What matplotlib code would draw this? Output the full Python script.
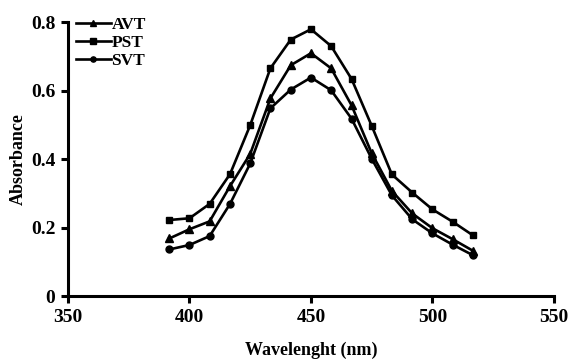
import matplotlib
matplotlib.use("Agg")
import matplotlib.pyplot as plt

plt.rcParams["font.family"] = ["Liberation Serif", "DejaVu Serif"]

wavelength = [391.7, 400, 408.3, 416.7, 425, 433.3, 441.7, 450,
              458.3, 466.7, 475, 483.3, 491.7, 500, 508.3, 516.7]
avt = [0.168, 0.195, 0.218, 0.321, 0.415, 0.577, 0.674, 0.709,
       0.665, 0.557, 0.417, 0.307, 0.241, 0.198, 0.166, 0.132]
pst = [0.222, 0.227, 0.269, 0.356, 0.499, 0.665, 0.749, 0.779,
       0.730, 0.634, 0.497, 0.355, 0.302, 0.253, 0.217, 0.177]
svt = [0.136, 0.149, 0.175, 0.269, 0.387, 0.548, 0.603, 0.638,
       0.601, 0.518, 0.401, 0.294, 0.224, 0.183, 0.150, 0.119]

x_ticks = [350, 400, 450, 500, 550]
y_ticks = [0, 0.2, 0.4, 0.6, 0.8]
y_tick_labels = ["0", "0.2", "0.4", "0.6", "0.8"]

fig = plt.figure(figsize=(5.69, 3.62), dpi=100)
ax = fig.add_axes([0.1195, 0.1823, 0.854, 0.7567])

ax.plot(wavelength, avt, color="black", lw=1.9, marker="^", ms=6, label="AVT")
ax.plot(wavelength, pst, color="black", lw=1.9, marker="s", ms=5, label="PST")
ax.plot(wavelength, svt, color="black", lw=1.9, marker="o", ms=5, label="SVT")

ax.set_xlim(350, 550)
ax.set_ylim(0, 0.8)
ax.set_xticks(x_ticks)
ax.set_yticks(y_ticks)
ax.set_yticklabels(y_tick_labels)
for s in ["top", "right"]:
    ax.spines[s].set_visible(False)
for s in ["left", "bottom"]:
    ax.spines[s].set_linewidth(2.2)
ax.tick_params(direction="out", length=5, width=2.2, labelsize=14, pad=4)
for lab in ax.get_xticklabels() + ax.get_yticklabels():
    lab.set_fontweight("bold")

ax.set_xlabel("Wavelenght (nm)", fontsize=13, fontweight="bold", labelpad=12)
ax.set_ylabel("Absorbance", fontsize=13, fontweight="bold", labelpad=3)

leg = ax.legend(loc="upper left", frameon=False, handlelength=2.0,
                handletextpad=0.05, labelspacing=0.1, borderaxespad=0.0,
                bbox_to_anchor=(0.002, 1.045), markerscale=0.75,
                prop={"size": 12.5, "weight": "bold"})

fig.savefig("out.png", dpi=100)
